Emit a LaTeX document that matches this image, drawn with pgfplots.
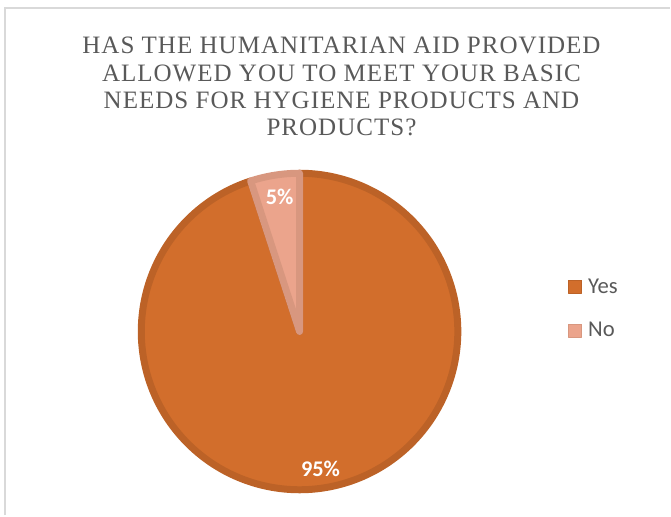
\documentclass[border=0pt]{standalone}
\usepackage{fontspec}
\usepackage{pgfplots}
\usepackage{pgfplotstable}
\pgfplotsset{compat=1.18}
\setmainfont{Carlito}
\newfontfamily\titlefont[LetterSpace=4]{Liberation Serif}
\definecolor{yesfill}{HTML}{D26E2C}
\definecolor{yesedge}{HTML}{BC6227}
\definecolor{nofill}{HTML}{EBA48C}
\definecolor{noedge}{HTML}{D8977F}
\definecolor{txt}{HTML}{595959}
\definecolor{framec}{HTML}{D9D9D9}

\pgfplotstableread{
label value
Yes 95
No 5
}\piedata

\begin{document}
\begin{tikzpicture}
\pgfplotstablegetelem{0}{value}\of\piedata \pgfmathsetmacro{\yesval}{\pgfplotsretval}
\pgfplotstablegetelem{1}{value}\of\piedata \pgfmathsetmacro{\noval}{\pgfplotsretval}
\pgfmathsetmacro{\nos}{90}
\pgfmathsetmacro{\noe}{90+3.6*\noval}
\pgfmathsetmacro{\yese}{\noe+3.6*\yesval}
\begin{axis}[
  scale only axis, width=503.25pt, height=387pt,
  xmin=0, xmax=671, ymin=0, ymax=516,
  hide axis, clip=false,
  legend style={draw=none, fill=none, at={(axis cs:569,240)}, anchor=north west,
    inner sep=0pt, row sep=16.5pt, font=\fontsize{17}{19}\selectfont, text=txt,
    legend cell align=left, nodes={inner xsep=4.5pt}},
  legend image code/.code={\filldraw[#1, line width=0.6pt] (0pt,-4.9pt) rectangle (9.75pt,4.9pt);},
]
\path (rel axis cs:0,0) rectangle (rel axis cs:1,1);
\draw[framec, line width=1.5pt] (axis cs:4.7,0) |- (axis cs:671,508);
% Yes slice
\addplot[fill=yesfill, draw=yesedge, line width=5.25pt, line join=round,
  domain=\noe-1:\yese+1, samples=345, variable=\t]
  ({300+158.5*ifthenelse(\t<\noe-0.5 || \t>\yese+0.5,0,1)*cos(min(max(\t,\noe),\yese))},
   {184+158.5*ifthenelse(\t<\noe-0.5 || \t>\yese+0.5,0,1)*sin(min(max(\t,\noe),\yese))}) -- cycle;
% No slice
\addplot[fill=nofill, draw=noedge, line width=5.25pt, line join=round,
  domain=\nos-1:\noe+1, samples=21, variable=\t]
  ({300+158.5*ifthenelse(\t<\nos-0.5 || \t>\noe+0.5,0,1)*cos(min(max(\t,\nos),\noe))},
   {184+158.5*ifthenelse(\t<\nos-0.5 || \t>\noe+0.5,0,1)*sin(min(max(\t,\nos),\noe))}) -- cycle;
\legend{Yes,No}
\node[text=white, font=\bfseries\fontsize{16.8}{17}\selectfont] at (axis cs:280,319) {5\%};
\node[text=white, font=\bfseries\fontsize{16.8}{17}\selectfont] at (axis cs:321,46) {95\%};
\node[anchor=north, inner sep=0pt, align=center, text=txt,
  font=\titlefont\fontsize{18.8}{20.5}\selectfont] at (axis cs:342,479)
  {HAS THE HUMANITARIAN AID PROVIDED\\ALLOWED YOU TO MEET YOUR BASIC\\NEEDS FOR HYGIENE PRODUCTS AND\\PRODUCTS?};
\end{axis}
\end{tikzpicture}
\end{document}
